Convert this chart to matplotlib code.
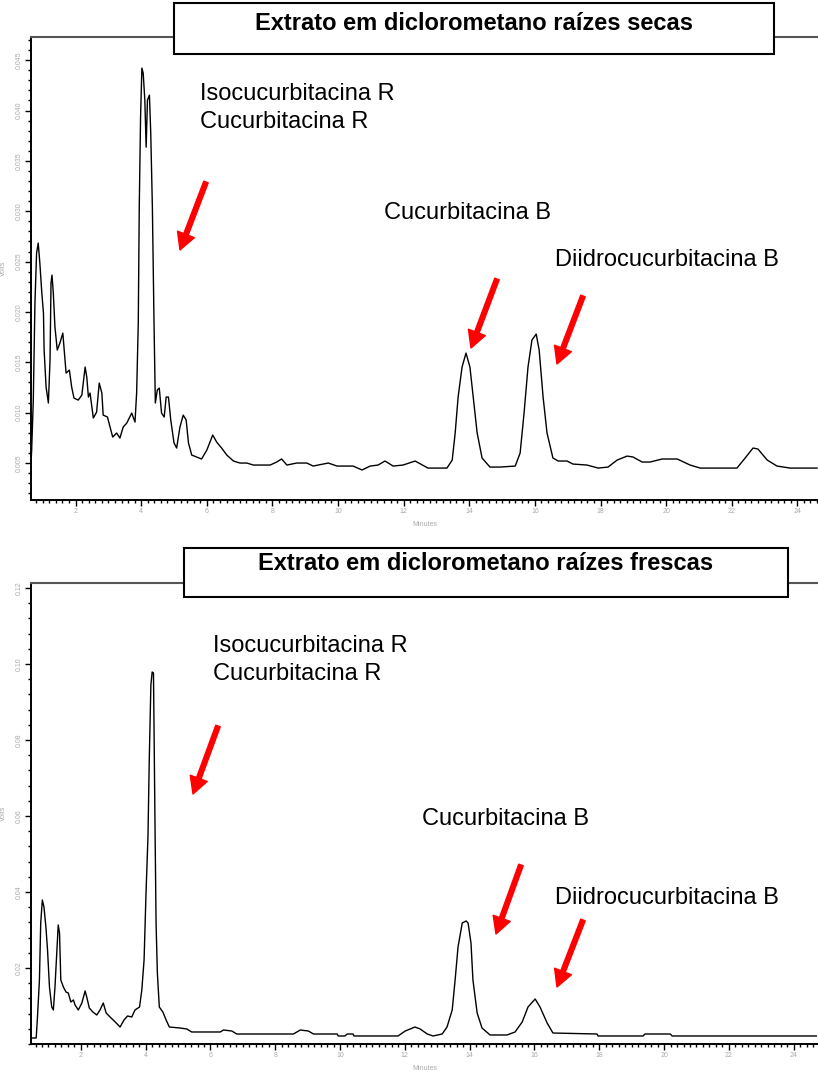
import numpy as np
import matplotlib
matplotlib.use('Agg')
import matplotlib.pyplot as plt
from matplotlib.patches import Rectangle
from matplotlib.ticker import MultipleLocator, FixedLocator

plt.rcParams['font.family'] = ['Liberation Sans', 'DejaVu Sans']

# Dichloromethane extract of dried roots: retention time (min) and detector signal (mV)
secas_min = [0.64, 0.66, 0.71, 0.76, 0.81, 0.86, 0.91, 0.97, 1.02, 1.04, 1.10, 1.17, 1.22, 1.25,
             1.28, 1.32, 1.37, 1.44, 1.52, 1.61, 1.66, 1.71, 1.81, 1.88, 1.95, 2.08, 2.19, 2.29,
             2.34, 2.39, 2.44, 2.54, 2.64, 2.72, 2.80, 2.84, 2.97, 3.05, 3.13, 3.25, 3.35, 3.45,
             3.56, 3.71, 3.81, 3.86, 3.91, 3.94, 3.98, 4.02, 4.06, 4.11, 4.15, 4.19, 4.25, 4.29,
             4.34, 4.39, 4.43, 4.49, 4.55, 4.62, 4.70, 4.76, 4.83, 4.90, 5.00, 5.08, 5.18, 5.28,
             5.37, 5.44, 5.54, 5.69, 5.84, 6.00, 6.18, 6.30, 6.45, 6.61, 6.81, 7.01, 7.22, 7.42,
             7.93, 8.13, 8.28, 8.44, 8.74, 9.05, 9.24, 9.70, 9.97, 10.46, 10.73, 10.98, 11.22,
             11.43, 11.68, 11.98, 12.35, 12.74, 13.32, 13.48, 13.57, 13.66, 13.78, 13.90, 14.02,
             14.12, 14.24, 14.39, 14.63, 14.94, 15.40, 15.55, 15.67, 15.79, 15.91, 16.04, 16.13,
             16.25, 16.37, 16.55, 16.71, 16.98, 17.16, 17.59, 17.93, 18.23, 18.51, 18.81, 18.99,
             19.27, 19.51, 19.88, 20.34, 20.73, 21.04, 22.16, 22.41, 22.65, 22.80, 23.08, 23.38,
             23.78, 24.60]
secas_mv = [5.00, 6.29, 11.25, 20.88, 25.84, 26.84, 24.85, 21.87, 19.89, 16.22, 12.54, 10.96, 15.22,
            22.87, 23.66, 21.87, 18.50, 16.22, 16.91, 17.90, 15.92, 13.93, 14.23, 12.54, 11.45,
            11.25, 11.75, 14.53, 13.54, 11.55, 11.95, 9.47, 10.06, 12.94, 11.95, 9.76, 9.57, 8.57,
            7.58, 7.98, 7.48, 8.57, 8.97, 9.96, 9.07, 11.95, 18.90, 30.41, 39.34, 44.21, 43.71,
            41.03, 36.36, 41.03, 41.53, 37.75, 30.41, 18.90, 10.96, 12.25, 12.44, 9.96, 9.57,
            11.55, 11.55, 9.27, 6.99, 6.49, 8.57, 9.76, 9.27, 6.99, 5.79, 5.60, 5.40, 6.29, 7.78,
            7.08, 6.49, 5.79, 5.20, 5.00, 5.00, 4.80, 4.80, 5.10, 5.40, 4.80, 5.00, 5.00, 4.70,
            5.00, 4.70, 4.70, 4.31, 4.70, 4.80, 5.20, 4.70, 4.80, 5.20, 4.50, 4.50, 5.30, 7.98,
            11.55, 14.53, 15.92, 14.53, 11.55, 7.98, 5.50, 4.60, 4.60, 4.70, 5.99, 9.96, 14.53,
            17.21, 17.80, 16.22, 11.55, 7.98, 5.50, 5.20, 5.20, 4.90, 4.80, 4.50, 4.60, 5.30,
            5.69, 5.60, 5.10, 5.10, 5.40, 5.40, 4.80, 4.50, 4.50, 5.50, 6.49, 6.39, 5.30, 4.70,
            4.50, 4.50]

# Dichloromethane extract of fresh roots
frescas_min = [0.46, 0.62, 0.66, 0.72, 0.76, 0.81, 0.86, 0.92, 0.97, 1.03, 1.10, 1.15, 1.20, 1.26,
               1.30, 1.34, 1.38, 1.46, 1.54, 1.61, 1.69, 1.77, 1.82, 1.92, 2.03, 2.13, 2.18, 2.26,
               2.37, 2.49, 2.59, 2.69, 2.78, 2.90, 3.06, 3.21, 3.33, 3.44, 3.57, 3.67, 3.81, 3.88,
               3.95, 4.01, 4.07, 4.11, 4.16, 4.20, 4.24, 4.26, 4.29, 4.32, 4.36, 4.42, 4.53, 4.63,
               4.73, 5.06, 5.27, 5.42, 6.30, 6.40, 6.66, 6.81, 8.56, 8.77, 9.02, 9.18, 9.91, 9.94,
               10.15, 10.22, 10.40, 10.43, 11.79, 12.01, 12.31, 12.47, 12.69, 12.87, 13.15, 13.30,
               13.46, 13.55, 13.64, 13.77, 13.89, 13.95, 14.04, 14.10, 14.23, 14.38, 14.63, 15.15,
               15.40, 15.62, 15.80, 16.02, 16.17, 16.39, 16.57, 17.93, 17.96, 19.35, 19.41, 20.19,
               20.25, 24.70]
frescas_mv = [1.58, 1.58, 7.11, 16.84, 31.84, 37.89, 36.05, 30.79, 24.74, 14.99, 9.74, 8.95, 14.99,
              24.74, 31.32, 29.21, 16.84, 14.99, 13.68, 13.42, 11.05, 11.58, 10.26, 8.95, 10.79,
              13.95, 12.37, 9.47, 8.42, 7.63, 8.95, 10.79, 8.16, 7.11, 5.79, 4.47, 6.32, 7.37, 7.11,
              8.95, 9.74, 14.21, 22.11, 39.74, 54.47, 74.74, 94.47, 97.89, 97.63, 80.79, 55.53,
              31.84, 18.68, 9.74, 8.42, 6.32, 4.47, 4.21, 3.95, 3.16, 3.16, 3.68, 3.42, 2.63, 2.63,
              3.68, 3.42, 2.63, 2.63, 2.11, 2.11, 2.63, 2.63, 2.11, 2.11, 3.42, 4.47, 3.95, 2.63,
              2.11, 2.63, 4.47, 8.95, 16.84, 25.53, 31.84, 32.37, 31.84, 26.58, 16.84, 8.16, 4.21,
              2.37, 2.37, 3.16, 5.79, 9.74, 11.84, 9.74, 5.53, 2.89, 2.63, 2.11, 2.11, 2.63, 2.63,
              2.11, 2.11]

titulos = ['Extrato em diclorometano raízes secas', 'Extrato em diclorometano raízes frescas']
compostos = ['Isocucurbitacina R\nCucurbitacina R', 'Cucurbitacina B', 'Diidrocucurbitacina B']
secas_yticks = [0.005, 0.010, 0.015, 0.020, 0.025, 0.030, 0.035, 0.040, 0.045]
frescas_yticks = [0.02, 0.04, 0.06, 0.08, 0.10, 0.12]
x_ticks = [2, 4, 6, 8, 10, 12, 14, 16, 18, 20, 22, 24]

W, H = 818, 1072
fig = plt.figure(figsize=(W / 100, H / 100), dpi=100)


def fx(x):
    return x / W


def fy(y):
    return 1 - y / H


def painel(top, bottom, xlim, ylim, tempo, sinal, yticks, ystep, yfmt):
    ax = fig.add_axes([fx(31), fy(bottom), fx(818) - fx(31), (bottom - top) / H])
    ax.plot(tempo, np.array(sinal) / 1000, color='black', lw=1.0)
    ax.set_xlim(*xlim)
    ax.set_ylim(*ylim)
    ax.xaxis.set_major_locator(FixedLocator(x_ticks))
    ax.xaxis.set_minor_locator(MultipleLocator(0.2))
    ax.yaxis.set_major_locator(FixedLocator(yticks))
    ax.yaxis.set_minor_locator(MultipleLocator(ystep))
    ax.set_yticklabels([yfmt % v for v in yticks])
    ax.spines['right'].set_visible(False)
    ax.spines['top'].set_color('#555555')
    ax.spines['top'].set_linewidth(1.5)
    for s in ('left', 'bottom'):
        ax.spines[s].set_linewidth(1.4)
    ax.tick_params(which='major', direction='out', length=4, width=1, labelsize=5,
                   labelcolor='#aaaaaa', pad=2)
    ax.tick_params(which='minor', direction='out', length=2.5, width=1)
    for lab in ax.get_yticklabels():
        lab.set_rotation(90)
        lab.set_va('center')
    ax.set_xlabel('Minutes', fontsize=5, color='#aaaaaa', labelpad=4)
    ax.set_ylabel('Volts', fontsize=5, color='#aaaaaa', labelpad=6)
    return ax


ax1 = painel(37, 500, (0.64, 24.63), (0.00133, 0.0473), secas_min, secas_mv,
             secas_yticks, 0.001, '%.3f')
ax2 = painel(583, 1044, (0.46, 24.75), (0.0, 0.1213), frescas_min, frescas_mv,
             frescas_yticks, 0.004, '%.2f')


def caixa(x0, x1, y0, y1, texto, ty):
    fig.add_artist(Rectangle((fx(x0), fy(y1)), fx(x1) - fx(x0), (y1 - y0) / H,
                             transform=fig.transFigure, facecolor='white',
                             edgecolor='black', lw=1.5, zorder=5))
    fig.text(fx((x0 + x1) / 2), fy(ty), texto, ha='center', va='center',
             fontsize=17, fontweight='bold', zorder=6)


caixa(174, 774, 3, 54, titulos[0], 24)
caixa(184, 788, 548, 597, titulos[1], 563)

# compound names
rotulos = [(200, 108, compostos[0]), (384, 213, compostos[1]), (555, 260, compostos[2]),
           (213, 660, compostos[0]), (422, 819, compostos[1]), (555, 898, compostos[2])]
for x, y, s in rotulos:
    fig.text(fx(x), fy(y), s, ha='left', va='center', fontsize=17, linespacing=1.3)

# red arrows pointing at the peaks (tail -> tip, in pixels from top-left)
setas = [(ax1, (206, 182), (180, 250)), (ax1, (497, 279), (471, 348)),
         (ax1, (583, 296), (557, 364)), (ax2, (218, 726), (193, 794)),
         (ax2, (521, 865), (496, 934)), (ax2, (583, 920), (557, 987))]
for ax, (x0, y0), (x1, y1) in setas:
    seta = ax.annotate('', xy=(fx(x1), fy(y1)), xytext=(fx(x0), fy(y0)),
                       xycoords='figure fraction', textcoords='figure fraction',
                       annotation_clip=False,
                       arrowprops=dict(facecolor='#ff0000', edgecolor='#ff0000', width=3.4,
                                       headwidth=13, headlength=12, shrink=0))
    seta.set_clip_on(False)
    seta.arrow_patch.set_clip_on(False)

fig.savefig('out.png', dpi=100)
